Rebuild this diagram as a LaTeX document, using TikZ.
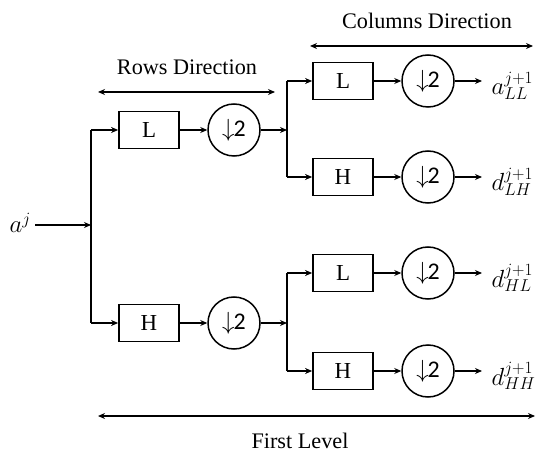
\documentclass[tikz,border=0pt]{standalone}
\usepackage{fontspec}
\setmainfont{Liberation Serif}
\newfontfamily\digfont{Carlito}
\DeclareMathSizes{27}{27}{19}{14}
\DeclareMathSizes{24}{24}{17}{13}
\usetikzlibrary{arrows.meta}
\begin{document}
\begin{tikzpicture}[x=1bp,y=-1bp,
  line width=1.3bp,
  arr/.style={-{Stealth[length=7bp,width=6bp]}},
  darr/.style={{Stealth[length=7bp,width=6bp]}-{Stealth[length=7bp,width=6bp]}},
  filt/.style={draw, line width=1.8bp, minimum width=60bp, minimum height=37bp, inner sep=0pt, font=\fontsize{23}{26}\selectfont},
  down/.style={draw, circle, minimum size=52bp, inner sep=0pt, line width=1.5bp, font=\fontsize{24}{28}\selectfont},
  lab/.style={font=\fontsize{22.3}{26}\selectfont},
  mlab/.style={font=\fontsize{27}{30}\selectfont, inner sep=1bp, anchor=base west}]
\useasboundingbox (0,0) rectangle (537,452);
\newcommand{\dtwo}{$\downarrow$\kern-1bp{\digfont 2}}

% input
\node[mlab] (ain) at (8,233) {$a^{j}$};
\coordinate (s1) at (91,225);
\coordinate (s1t) at (91,130);
\coordinate (s1b) at (91,323);
\draw[arr, shorten <=3bp] (ain.east |- s1) -- (s1);
\draw (s1t) -- (s1b);

% row stage
\node[filt] (rL) at (149,130) {L};
\node[filt] (rH) at (149,323) {H};
\node[down] (rLd) at (234,130) {\dtwo};
\node[down] (rHd) at (234,323) {\dtwo};
\draw[arr] (s1t) -- (rL);
\draw[arr] (s1b) -- (rH);
\draw[arr] (rL) -- (rLd);
\draw[arr] (rH) -- (rHd);

\coordinate (s2) at (287,130);
\coordinate (s2t) at (287,81);
\coordinate (s2b) at (287,177);
\coordinate (s3) at (287,323);
\coordinate (s3t) at (287,273);
\coordinate (s3b) at (287,371);
\draw[arr] (rLd) -- (s2);
\draw[arr] (rHd) -- (s3);
\draw (s2t) -- (s2b);
\draw (s3t) -- (s3b);

% column stage
\node[filt] (cLL) at (343,81) {L};
\node[filt] (cLH) at (343,177) {H};
\node[filt] (cHL) at (343,273) {L};
\node[filt] (cHH) at (343,371) {H};
\node[down] (dLL) at (428,81) {\dtwo};
\node[down] (dLH) at (428,177) {\dtwo};
\node[down] (dHL) at (428,273) {\dtwo};
\node[down] (dHH) at (428,371) {\dtwo};
\draw[arr] (s2t) -- (cLL);
\draw[arr] (s2b) -- (cLH);
\draw[arr] (s3t) -- (cHL);
\draw[arr] (s3b) -- (cHH);
\draw[arr] (cLL) -- (dLL);
\draw[arr] (cLH) -- (dLH);
\draw[arr] (cHL) -- (dHL);
\draw[arr] (cHH) -- (dHH);

% outputs
\node[mlab] (oLL) at (490,95) {$a_{LL}^{j+1}$};
\node[mlab] (oLH) at (490,191) {$d_{LH}^{j+1}$};
\node[mlab] (oHL) at (490,287) {$d_{HL}^{j+1}$};
\node[mlab] (oHH) at (490,385) {$d_{HH}^{j+1}$};
\draw[arr, shorten >=8bp] (dLL) -- (oLL.west |- dLL);
\draw[arr, shorten >=8bp] (dLH) -- (oLH.west |- dLH);
\draw[arr, shorten >=8bp] (dHL) -- (oHL.west |- dHL);
\draw[arr, shorten >=8bp] (dHH) -- (oHH.west |- dHH);

% direction arrows
\coordinate (rowA) at (98,92);
\coordinate (rowB) at (275,92);
\draw[darr] (rowA) -- (rowB);
\node[lab] (rowT) at (187,67) {Rows Direction};

\coordinate (colA) at (310,46);
\coordinate (colB) at (533,46);
\draw[darr] (colA) -- (colB);
\node[lab] (colT) at (427,21) {Columns Direction};

\coordinate (lvA) at (98,416);
\coordinate (lvB) at (535,416);
\draw[darr] (lvA) -- (lvB);
\node[lab] (lvT) at (300,441) {First Level};
\end{tikzpicture}
\end{document}
